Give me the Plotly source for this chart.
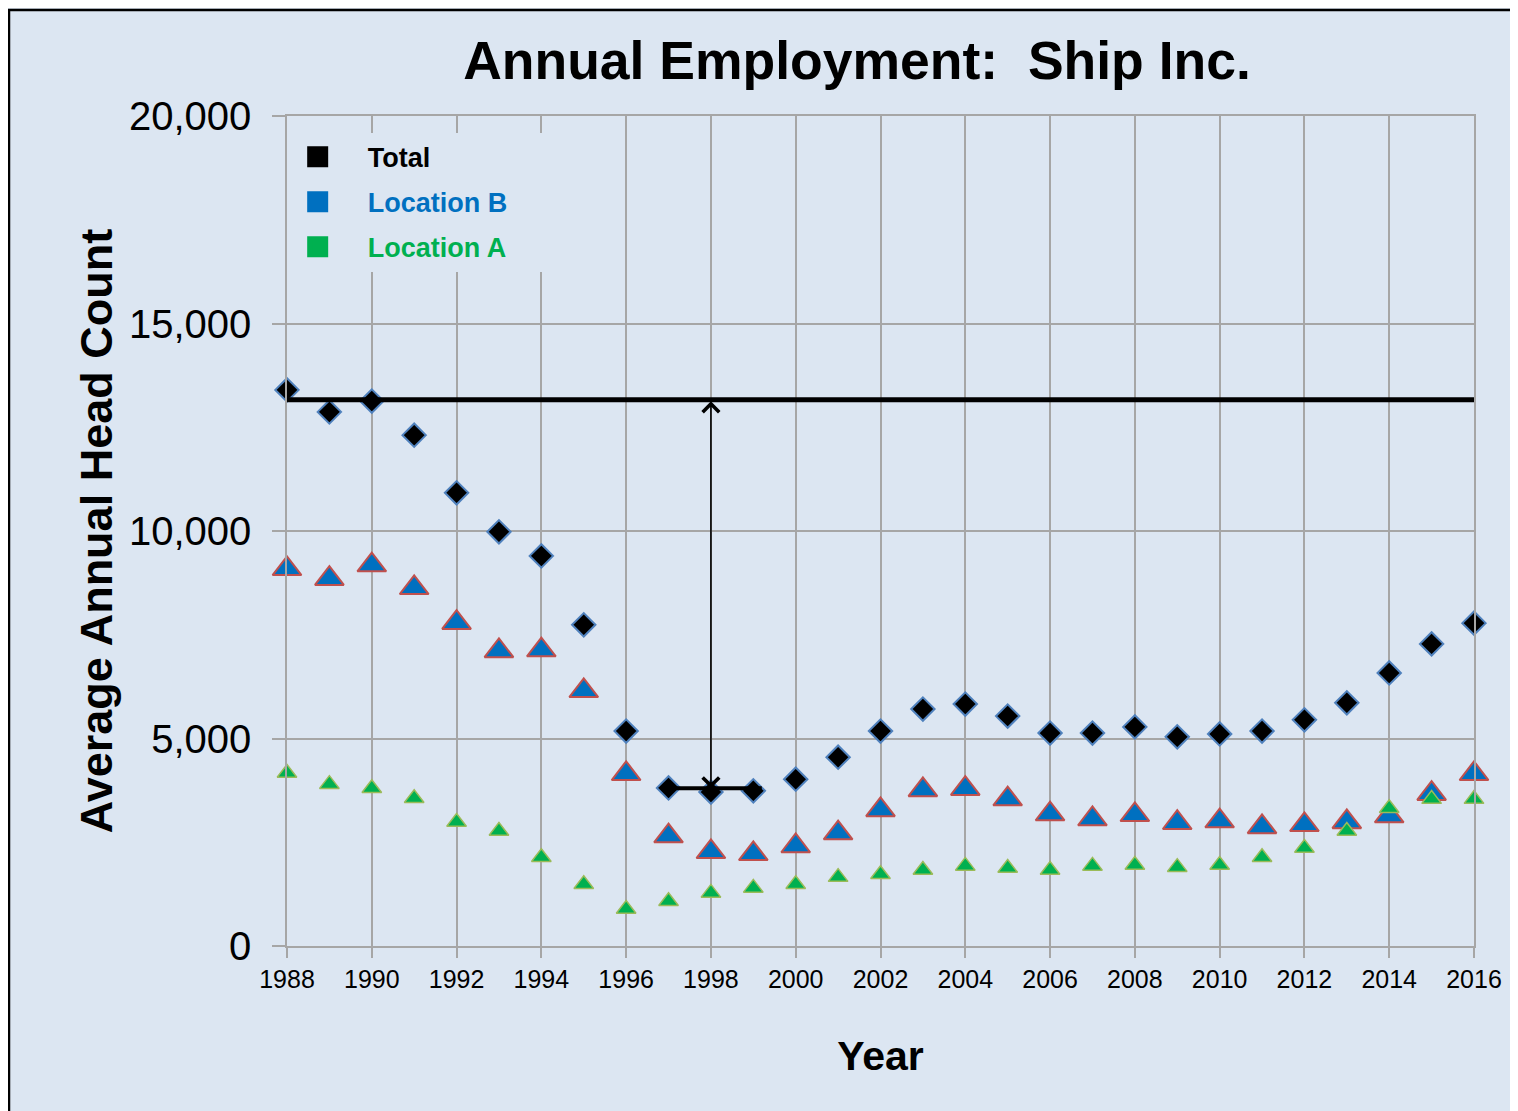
import plotly.graph_objects as go

# -----------------------------------------
# Data
# -----------------------------------------
years = list(range(1988, 2017))

total = [13400, 12870, 13130, 12310, 10920, 9980, 9400, 7740, 5180, 3810,
         3710, 3740, 4020, 4550, 5180, 5710, 5830, 5540, 5130, 5130,
         5280, 5040, 5110, 5180, 5450, 5860, 6580, 7280, 7780]

location_b = [9090, 8850, 9180, 8630, 7790, 7110, 7130, 6150, 4150, 2650,
              2270, 2220, 2410, 2720, 3280, 3760, 3790, 3540, 3180, 3060,
              3160, 2970, 3010, 2870, 2920, 2990, 3130, 3670, 4150]

location_a = [4170, 3900, 3800, 3560, 2990, 2770, 2140, 1490, 890, 1080,
              1280, 1400, 1490, 1660, 1730, 1830, 1930, 1880, 1830, 1930,
              1950, 1900, 1950, 2140, 2360, 2770, 3320, 3540, 3540]

peak_level = 13160
peak_span = [1988, 2016]
trough_level = 3800
trough_span = [1997, 1999.2]
arrow_year = 1998

BG = "#dce6f2"
GRID = "#a6a6a6"
FONT = "Liberation Sans, Arial, sans-serif"

W, H = 1510, 1103   # page adds an 8px body margin

fig = go.Figure()

# -----------------------------------------
# Data markers
# -----------------------------------------
fig.add_trace(go.Scatter(
    x=years, y=location_b, mode="markers", showlegend=False,
    cliponaxis=False,
    marker=dict(symbol="triangle-up", size=25, color="#0070c0",
                line=dict(color="#c0504d", width=2))
))

fig.add_trace(go.Scatter(
    x=years, y=location_a, mode="markers", showlegend=False,
    cliponaxis=False,
    marker=dict(symbol="triangle-up", size=17, color="#00b050",
                line=dict(color="#9bbb59", width=1.5))
))

fig.add_trace(go.Scatter(
    x=years, y=total, mode="markers", showlegend=False,
    cliponaxis=False,
    marker=dict(symbol="diamond", size=18, color="black",
                line=dict(color="#4f81bd", width=2))
))

# -----------------------------------------
# Reference lines
# -----------------------------------------
fig.add_trace(go.Scatter(
    x=peak_span, y=[peak_level, peak_level], mode="lines", showlegend=False,
    line=dict(color="black", width=5)
))

fig.add_trace(go.Scatter(
    x=trough_span, y=[trough_level, trough_level], mode="lines",
    showlegend=False, line=dict(color="black", width=4)
))

fig.add_annotation(
    x=arrow_year, y=trough_level, ax=arrow_year, ay=peak_level,
    xref="x", yref="y", axref="x", ayref="y",
    text="", showarrow=True, arrowside="end+start",
    arrowhead=4, startarrowhead=4, arrowsize=2, startarrowsize=2,
    arrowwidth=1.6, arrowcolor="black"
)

# -----------------------------------------
# Legend entries (square swatches)
# -----------------------------------------
legend_items = [
    ("Total", "black"),
    ("Location B", "#0070c0"),
    ("Location A", "#00b050"),
]
for i, (name, col) in enumerate(legend_items):
    fig.add_trace(go.Scatter(
        x=[None], y=[None], mode="markers",
        name="&nbsp;&nbsp;&nbsp;&nbsp;<span style='color:%s'>%s</span>"
             "&nbsp;&nbsp;&nbsp;&nbsp;&nbsp;" % (col, name),
        legendgroup="g%d" % i,
        marker=dict(symbol="square", size=16, color=col,
                    line=dict(color=col, width=5))
    ))

# -----------------------------------------
# Layout
# -----------------------------------------
fig.update_layout(
    width=W,
    height=H,
    margin=dict(l=279, r=44, t=108, b=165),
    paper_bgcolor=BG,
    plot_bgcolor=BG,
    font=dict(family=FONT, color="black"),
    title=dict(
        text="<b>Annual Employment:&nbsp;&nbsp;Ship Inc.</b>",
        font=dict(size=53.5, color="black"),
        x=849 / W, xanchor="center",
        y=1 - 52 / H, yanchor="middle"
    ),
    legend=dict(
        x=0.009, y=0.98, xanchor="left", yanchor="top",
        bgcolor=BG, borderwidth=0,
        font=dict(size=27, color="black", family=FONT, weight="bold"),
        traceorder="grouped", tracegroupgap=7,
        itemsizing="trace"
    ),
    shapes=[dict(
        type="rect", xref="paper", yref="paper",
        x0=-278 / 1187, x1=1.1, y0=-0.3, y1=1 + 106 / 830,
        line=dict(color="black", width=2.5), fillcolor="rgba(0,0,0,0)"
    )]
)

fig.update_xaxes(
    range=[1988, 2016], dtick=2, tick0=1988,
    showgrid=True, gridcolor=GRID, gridwidth=1.5,
    showline=True, linecolor=GRID, linewidth=1.5, mirror=True,
    ticks="outside", ticklen=10, tickcolor=GRID, tickwidth=1.5,
    tickfont=dict(size=25, color="black"),
    zeroline=False,
    title=dict(text="<b>Year</b>", font=dict(size=41, color="black"),
               standoff=50)
)

fig.update_yaxes(
    range=[0, 20000], dtick=5000, tickformat=",d",
    showgrid=True, gridcolor=GRID, gridwidth=1.5,
    showline=True, linecolor=GRID, linewidth=1.5, mirror=True,
    ticks="outside", ticklen=13, tickcolor=GRID, tickwidth=1.5,
    ticklabelstandoff=13,
    tickfont=dict(size=40, color="black"),
    zeroline=False,
    title=dict(text="<b>Average Annual Head Count</b>",
               font=dict(size=45, color="black"), standoff=2)
)

fig.write_html("out.html")
